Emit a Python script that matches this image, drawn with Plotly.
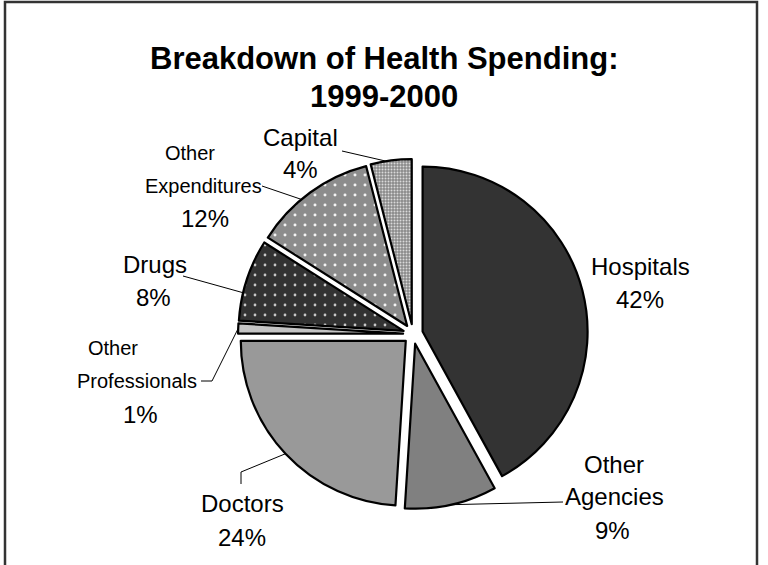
import math
import plotly.graph_objects as go

# Health spending shares, 1999-2000 (percent), clockwise from 12 o'clock
categories = ["Hospitals", "Other Agencies", "Doctors", "Other Professionals",
              "Drugs", "Other Expenditures", "Capital"]
shares = [42, 9, 24, 1, 8, 12, 4]

# Fill styles per slice
slice_colors = ["#333333", "#808080", "#999999", "#c4c4c4", "#333333", "#8c8c8c", "#8a8a8a"]
pattern_shapes = ["", "", "", "", ".", ".", "."]
pattern_fg = ["#333333", "#808080", "#999999", "#c4c4c4", "#c8c8c8", "#f4f4f4", "#dadada"]
pattern_size = [8, 8, 8, 8, 10, 10, 3]
pattern_solidity = [0.3, 0.3, 0.3, 0.3, 0.06, 0.07, 0.35]

W, H = 768, 565
CX, CY, R, PULL = 413, 334, 165, 0.06
FONT = "Liberation Sans, Arial, sans-serif"

half = R * (1 + PULL)
dom_x = [(CX - half) / W, (CX + half) / W]
dom_y = [1 - (CY + half) / H, 1 - (CY - half) / H]


def px(x, y):
    return x / W, 1 - y / H


def slice_point(i, frac):
    total = sum(shares)
    start = sum(shares[:i]) / total * 360
    span = shares[i] / total * 360
    mid = math.radians(start + span / 2)
    ang = math.radians(start + span * frac)
    ox = CX + PULL * R * math.sin(mid)
    oy = CY - PULL * R * math.cos(mid)
    return ox + R * math.sin(ang), oy - R * math.cos(ang)


fig = go.Figure(go.Pie(
    labels=categories,
    values=shares,
    sort=False,
    direction="clockwise",
    rotation=0,
    pull=[PULL] * len(shares),
    textinfo="none",
    hoverinfo="label+percent",
    showlegend=False,
    domain=dict(x=dom_x, y=dom_y),
    marker=dict(
        colors=slice_colors,
        line=dict(color="#000000", width=2.2),
        pattern=dict(shape=pattern_shapes, fgcolor=pattern_fg, bgcolor=slice_colors,
                     size=pattern_size, solidity=pattern_solidity, fillmode="replace"),
    ),
))

# Label line placement (pixel centre x, centre y, font size) per category
label_layout = {
    "Hospitals": [(640, 266, 24), (640, 299, 24)],
    "Other Agencies": [(614, 464, 24), (614, 497, 24), (612, 530, 24)],
    "Doctors": [(242, 503, 24), (242, 537, 24)],
    "Other Professionals": [(113, 348, 20), (137, 381, 20), (140, 414, 24)],
    "Drugs": [(155, 264, 24), (153, 297, 24)],
    "Other Expenditures": [(190, 153, 20), (203, 186, 20), (205, 218, 24)],
    "Capital": [(300, 137, 24), (300, 169, 24)],
}

annotations = []
for name, val in zip(categories, shares):
    words = name.split(" ")
    lines = words + [f"{val}%"]
    for text, (x, y, size) in zip(lines, label_layout[name]):
        ax, ay = px(x, y)
        annotations.append(dict(
            x=ax, y=ay, xref="paper", yref="paper", text=text, showarrow=False,
            xanchor="center", yanchor="middle",
            font=dict(family=FONT, size=size, color="#000000"),
        ))

# Title lines
for text, y in [("<b>Breakdown of Health Spending:</b>", 58), ("<b>1999-2000</b>", 97)]:
    ax, ay = px(384, y)
    annotations.append(dict(
        x=ax, y=ay, xref="paper", yref="paper", text=text, showarrow=False,
        xanchor="center", yanchor="middle",
        font=dict(family=FONT, size=31, color="#000000"),
    ))

# Leader lines: label-side points (pixels) then the slice position they reach
leaders = {
    "Capital": ([(342, 151)], 0.38),
    "Other Expenditures": ([(262, 186)], 0.41),
    "Drugs": ([(183, 276)], 0.34),
    "Other Professionals": ([(201, 381), (212, 381)], 0.5),
    "Doctors": ([(241, 484), (241, 472)], 0.5),
    "Other Agencies": ([(563, 502)], 0.5),
}

shapes = []
for name, (pts, frac) in leaders.items():
    i = categories.index(name)
    path_pts = pts + [slice_point(i, frac)]
    for (x0, y0), (x1, y1) in zip(path_pts[:-1], path_pts[1:]):
        a0, b0 = px(x0, y0)
        a1, b1 = px(x1, y1)
        shapes.append(dict(type="line", xref="paper", yref="paper",
                           x0=a0, y0=b0, x1=a1, y1=b1,
                           line=dict(color="#000000", width=1)))

# Chart frame
f0x, f0y = px(5, 2)
f1x, f1y = px(757, 580)
shapes.append(dict(type="rect", xref="paper", yref="paper",
                   x0=f0x, y0=f1y, x1=f1x, y1=f0y,
                   line=dict(color="#333333", width=2.5), layer="below"))

fig.update_layout(
    width=W, height=H,
    margin=dict(l=0, r=0, t=0, b=0),
    paper_bgcolor="#ffffff",
    plot_bgcolor="#ffffff",
    annotations=annotations,
    shapes=shapes,
)

fig.write_html("out.html")
